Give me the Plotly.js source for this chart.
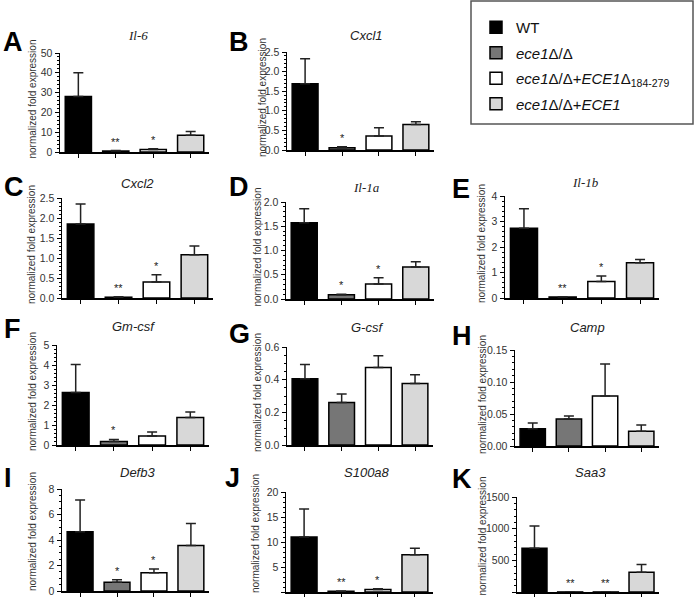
<!DOCTYPE html>
<html>
<head>
<meta charset="utf-8">
<script src="https://cdn.plot.ly/plotly-3.0.1.min.js"></script>
<style>html,body{margin:0;padding:0;background:#fff;}#chart{width:696px;height:597px;}</style>
</head>
<body>
<div id="chart"></div>
<script>
// ---- data ----
const genes = ['Il-6','Cxcl1','Cxcl2','Il-1a','Il-1b','Gm-csf','G-csf','Camp','Defb3','S100a8','Saa3'];
const panelLetters = ['A','B','C','D','E','F','G','H','I','J','K'];
const groupNames = ['WT','<i>ece1</i>Δ/Δ','<i>ece1</i>Δ/Δ+<i>ECE1</i>Δ<sub>184-279</sub>','<i>ece1</i>Δ/Δ+<i>ECE1</i>'];
const wt      = [28,   1.69, 1.85, 1.57, 2.74, 2.62, 0.405, 0.027, 4.65, 11.0, 689];
const wtSem   = [12,   0.64, 0.50, 0.29, 0.76, 1.40, 0.088, 0.009, 2.49, 5.6,  355];
const ko      = [0.5,  0.06, 0.02, 0.09, 0.04, 0.18, 0.26,  0.042, 0.68, 0.15, 1];
const koSem   = [0.2,  0.02, 0.01, 0.01, 0.01, 0.10, 0.052, 0.005, 0.21, 0.05, 0.5];
const trunc   = [1.3,  0.36, 0.40, 0.31, 0.65, 0.45, 0.475, 0.078, 1.44, 0.5,  1];
const truncSem= [0.4,  0.21, 0.18, 0.13, 0.21, 0.20, 0.072, 0.050, 0.29, 0.15, 0.5];
const comp    = [8.4,  0.65, 1.08, 0.66, 1.38, 1.38, 0.377, 0.023, 3.57, 7.47, 313];
const compSem = [2.0,  0.07, 0.22, 0.11, 0.13, 0.27, 0.053, 0.010, 1.73, 1.26, 122];
const stars = [['','**','*',''],['','*','',''],['','**','*',''],['','*','*',''],['','**','*',''],
               ['','*','',''],['','','',''],['','','',''],['','*','*',''],['','**','*',''],['','**','**','']];
const yMax    = [50, 2.5, 2.5, 2.0, 4, 5, 0.6, 0.15, 8, 20, 1500];
const yDtick  = [10, 0.5, 0.5, 0.5, 1, 1, 0.2, 0.05, 2, 5, 500];
const yMinor  = [2, 0.1, 0.1, 0.1, 0.2, 0.2, 0.05, 0.01, 0.5, 1, 100];
const yFormat = ['d','.1f','.1f','.1f','d','d','.1f','.2f','d','d','d'];

// ---- layout geometry (px) ----
const W = 696, H = 597;
const boxes = [ // [x0,x1,yTop,yBottom]
  [60,209,53,152],[287,434,52,150],[62,213,198,298],[286,434,202,299],[505,659,196,298],
  [57,209,345,445],[287,433,347,445],[515,659,350,446],[62,209,489,591],[286,433,492,592],[517,659,497,592]];
const letterPos = [[1,42.5],[227,42.5],[2,187],[227,187],[450,188.5],[2,329],[227,334],[450,336],[2,478],[223,477.5],[450,479]];
const titlePos = [[138,35],[367,35],[137,183],[367,187],[585,182],[133,326],[367,327],[587,327],[137,473],[367,473],[590,473]];
const yTitleX = [32,262,32,257,482,32,257,482,32,255,482];
const yTitleShift = [-3,-3,-3,-3,-3,-3,-3,-3,-8,-8,-8];
const serifTitle = [true,false,false,true,true,false,false,false,false,false,false];

const colors = ['#000000','#767676','#ffffff','#d8d8d8'];
const series = [[wt,wtSem],[ko,koSem],[trunc,truncSem],[comp,compSem]];

const px = x => x / W;
const py = y => 1 - y / H;

const traces = [];
const layout = {
  width: W, height: H,
  margin: {l:0, r:0, t:0, b:0},
  paper_bgcolor: '#fff', plot_bgcolor: '#fff',
  font: {family: 'Liberation Sans, Arial, sans-serif', color: '#222'},
  barmode: 'overlay',
  showlegend: true,
  legend: {
    x: px(476), y: py(11), xanchor: 'left', yanchor: 'top',
    bgcolor: 'rgba(0,0,0,0)', borderwidth: 0,
    font: {size: 15, color: '#111'},
    traceorder: 'grouped', tracegroupgap: 3
  },
  annotations: [],
  shapes: [{type:'rect', xref:'paper', yref:'paper', x0:px(471), x1:px(693), y0:py(1), y1:py(124),
            line:{color:'#555', width:1.5}, fillcolor:'rgba(0,0,0,0)'}]
};

genes.forEach((g, p) => {
  const n = p === 0 ? '' : String(p + 1);
  const xa = 'x' + n, ya = 'y' + n;
  const b = boxes[p];
  series.forEach((s, k) => {
    traces.push({
      type: 'bar', x: [k], y: [s[0][p]], width: 0.7,
      xaxis: xa, yaxis: ya,
      name: groupNames[k], legendgroup: 'g' + k, showlegend: p === 0,
      marker: {color: colors[k], line: {color: '#000', width: 1.5}},
      error_y: {type: 'data', symmetric: false, array: [s[1][p]], arrayminus: [0],
                color: '#222', thickness: 1.5, width: 5},
      hoverinfo: 'skip'
    });
    if (stars[p][k]) {
      layout.annotations.push({
        xref: xa, yref: ya, x: k, y: s[0][p] + s[1][p], text: stars[p][k],
        showarrow: false, yanchor: 'bottom', yshift: 1, font: {size: 11, color: '#222'}
      });
    }
  });
  layout['xaxis' + n] = {
    domain: [px(b[0]), px(b[1])], anchor: ya, range: [-0.49, 3.49],
    showgrid: false, zeroline: false, showline: true, linecolor: '#000', linewidth: 1.5,
    tickmode: 'array', tickvals: [0,1,2,3], ticks: 'outside', ticklen: 4, tickwidth: 1, tickcolor: '#000',
    showticklabels: false, fixedrange: true
  };
  layout['yaxis' + n] = {
    domain: [py(b[3]), py(b[2])], anchor: xa, range: [0, yMax[p]],
    showgrid: false, zeroline: false, showline: true, linecolor: '#000', linewidth: 1.5,
    tickmode: 'linear', tick0: 0, dtick: yDtick[p], ticks: 'outside', ticklen: 4, tickwidth: 1, tickcolor: '#000',
    tickformat: yFormat[p], tickfont: {size: 10.5, color: '#333'},
    minor: {dtick: yMinor[p], ticks: 'outside', ticklen: 2, tickwidth: 1, tickcolor: '#000', showgrid: false},
    fixedrange: true
  };
  layout.annotations.push({xref:'paper', yref:'paper', x: px(letterPos[p][0]), y: py(letterPos[p][1]),
    xanchor:'left', yanchor:'middle', text: '<b>' + panelLetters[p] + '</b>', showarrow:false,
    font:{size:27, color:'#000', family:'Liberation Sans, Arial, sans-serif'}});
  layout.annotations.push({xref:'paper', yref:'paper', x: px(titlePos[p][0]), y: py(titlePos[p][1]),
    xanchor:'center', yanchor:'middle', text: '<i>' + g + '</i>', showarrow:false,
    font:{size:13, color:'#222', family: serifTitle[p] ? 'Liberation Serif, serif' : 'Liberation Sans, Arial, sans-serif'}});
  layout.annotations.push({xref:'paper', yref:'paper', x: px(yTitleX[p]), y: py((b[2]+b[3])/2 + yTitleShift[p]),
    xanchor:'center', yanchor:'middle', textangle:-90, text:'normalized fold expression', showarrow:false,
    font:{size:10, color:'#333'}});
});

Plotly.newPlot('chart', traces, layout, {displayModeBar:false, staticPlot:true});
</script>
</body>
</html>
